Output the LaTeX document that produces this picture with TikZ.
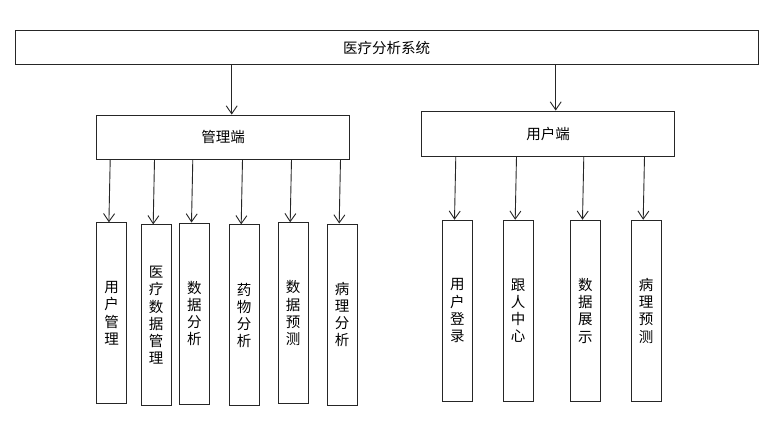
\documentclass[tikz,border=0pt]{standalone}
\usepackage{fontspec}
\setmainfont{Noto Sans CJK SC}
\usetikzlibrary{arrows.meta}
\tikzset{
	box/.style={draw=black!85,line width=0.9pt,inner sep=0pt,font=\fontsize{14.5}{17.2}\selectfont},
	leaf/.style={box,minimum width=30pt,minimum height=181pt,align=center},
	arr/.style={-{Straight Barb[length=8pt,width=11pt,line width=0.9pt]},draw=black!85,line width=0.9pt}
}
\begin{document}
\begin{tikzpicture}[x=1pt,y=-1pt]
		\useasboundingbox[fill=white] (0,0) rectangle (780,421);
		
		\node[box,minimum width=743pt,minimum height=34pt] (sys) at (386.5,47.7) {医疗分析系统}; %top box
		\node[box,minimum width=252.6pt,minimum height=44pt] (adm) at (223,137) {管理端}; %admin
		\node[box,minimum width=252.6pt,minimum height=45pt] (usr) at (548,133.5) {用户端}; %user
		
		\draw[arr] ([xshift=8.7pt]adm.north |- sys.south) -- ([xshift=8.7pt]adm.north);
		\draw[arr] ([xshift=7.7pt]usr.north |- sys.south) -- ([xshift=7.7pt]usr.north);
		
		% admin side
		\node[leaf] (a1) at (111.7,313.3) {用\\户\\管\\理};
		\node[leaf] (a2) at (156,315.3) {医\\疗\\数\\据\\管\\理};
		\node[leaf] (a3) at (194.3,313.5) {数\\据\\分\\析};
		\node[leaf] (a4) at (244,315.3) {药\\物\\分\\析};
		\node[leaf] (a5) at (293,313.2) {数\\据\\预\\测};
		\node[leaf] (a6) at (342,314.5) {病\\理\\分\\析};
		
		% user side
		\node[leaf] (u1) at (457.3,310.7) {用\\户\\登\\录};
		\node[leaf] (u2) at (518,310.7) {跟\\人\\中\\心};
		\node[leaf] (u3) at (585.3,310.7) {数\\据\\展\\示};
		\node[leaf] (u4) at (646,310.7) {病\\理\\预\\测};
		
		\foreach \c in {a1,a2,a3,a4,a5,a6}
			\draw[arr] ([xshift=-1.5pt]\c.north |- adm.south) -- ([xshift=-2.8pt]\c.north);
		\foreach \c in {u1,u2,u3,u4}
			\draw[arr] ([xshift=-1.5pt]\c.north |- usr.south) -- ([xshift=-2.8pt]\c.north);
\end{tikzpicture}
\end{document}
